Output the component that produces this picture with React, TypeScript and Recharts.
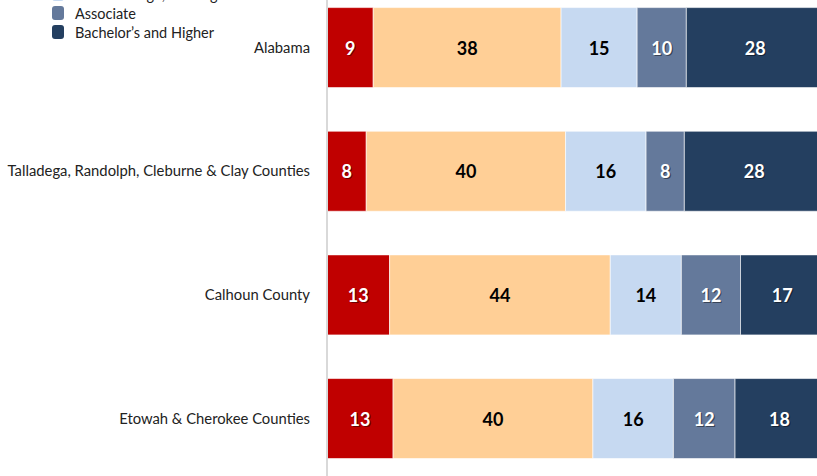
import React from 'react';
import { BarChart, Bar, XAxis, YAxis, Legend, LabelList } from 'recharts';

const categories = [
  'Alabama',
  'Talladega, Randolph, Cleburne & Clay Counties',
  'Calhoun County',
  'Etowah & Cherokee Counties',
];
const lessThanHS = [9.3, 7.9, 12.6, 13.3];
const highSchool = [37.8, 40.1, 44.4, 40.2];
const someCollege = [15.3, 16.2, 14.3, 16.2];
const associate = [9.9, 7.7, 11.9, 12.4];
const bachelors = [27.7, 28.1, 16.8, 17.9];

const seriesNames = [
  'Less than High School',
  'High School',
  'Some College, No Degree',
  'Associate',
  'Bachelor\u2019s and Higher',
];
const seriesColors = ['#C00000', '#FFCF96', '#C6D9F1', '#64799B', '#243F60'];
const labelColors = ['#FFFFFF', '#000000', '#000000', '#FFFFFF', '#FFFFFF'];
const seriesKeys = ['lths', 'hs', 'sc', 'assoc', 'bach'];

const data = categories.map((name, i) => ({
  name,
  lths: lessThanHS[i],
  hs: highSchool[i],
  sc: someCollege[i],
  assoc: associate[i],
  bach: bachelors[i],
}));

const FONT = 'Lato, "Open Sans", sans-serif';
const SHIFT = 60;

const makeLabel = (color: string) => (props: any) => {
  const { x, y, width, height, value } = props;
  const cx = Number(x) + Number(width) / 2;
  const cy = Number(y) + Number(height) / 2;
  const txt = String(Math.round(Number(value)));
  const white = color === '#FFFFFF';
  return (
    <g>
      {white && (
        <text
          x={cx + 1.2}
          y={cy + 1.2}
          textAnchor="middle"
          dominantBaseline="central"
          fontFamily={FONT}
          fontWeight={700}
          fontSize={18}
          fill="#000"
          fillOpacity={0.45}
        >
          {txt}
        </text>
      )}
      <text
        x={cx}
        y={cy}
        textAnchor="middle"
        dominantBaseline="central"
        fontFamily={FONT}
        fontWeight={700}
        fontSize={18}
        fill={color}
      >
        {txt}
      </text>
    </g>
  );
};

const renderLegend = (props: any) => {
  const payload = (props.payload || []).slice();
  payload.sort(
    (a: any, b: any) => seriesNames.indexOf(a.value) - seriesNames.indexOf(b.value)
  );
  return (
    <div style={{ position: 'relative', width: 300, height: 110 }}>
      {payload.map((entry: any, i: number) => (
        <div
          key={i}
          style={{
            position: 'absolute',
            left: 0,
            top: 6.5 + 19 * i,
            height: 19,
          }}
        >
          <div
            style={{
              position: 'absolute',
              left: 52,
              top: 2.5,
              width: 12,
              height: 14,
              borderRadius: 3,
              background: entry.color,
            }}
          />
          <span
            style={{
              position: 'absolute',
              left: 75,
              top: 0,
              lineHeight: '19px',
              whiteSpace: 'nowrap',
              fontFamily: FONT,
              fontSize: 14.5,
              color: '#222',
            }}
          >
            {entry.value}
          </span>
        </div>
      ))}
    </div>
  );
};

export default function App() {
  return (
    <div
      style={{
        position: 'fixed',
        left: 0,
        top: 0,
        width: 817,
        height: 476,
        overflow: 'hidden',
        background: '#fff',
      }}
    >
      <div style={{ position: 'absolute', left: 0, top: -SHIFT }}>
        <BarChart
          width={840}
          height={560}
          data={data}
          layout="vertical"
          margin={{ top: 45.7, right: 16, bottom: 19.7, left: 0 }}
          barCategoryGap="17.7%"
        >
          <XAxis type="number" domain={[0, 100]} hide />
          <YAxis
            type="category"
            dataKey="name"
            width={327}
            axisLine={{ stroke: '#D9D9D9', strokeWidth: 2 }}
            tickLine={false}
            tickMargin={11}
            interval={0}
            tick={{ fontFamily: FONT, fontSize: 14.8, fill: '#222' }}
          />
          <Legend
            layout="horizontal"
            verticalAlign="middle"
            align="center"
            itemSorter={null as any}
            content={renderLegend}
            wrapperStyle={{ position: 'absolute', left: 0, top: 0, width: 300, height: 110 }}
          />
          {seriesKeys.map((k, i) => (
            <Bar
              key={k}
              dataKey={k}
              name={seriesNames[i]}
              stackId="a"
              fill={seriesColors[i]}
              stroke="#FFFFFF"
              strokeWidth={0.6}
              isAnimationActive={false}
            >
              <LabelList dataKey={k} content={makeLabel(labelColors[i])} />
            </Bar>
          ))}
        </BarChart>
      </div>
    </div>
  );
}
